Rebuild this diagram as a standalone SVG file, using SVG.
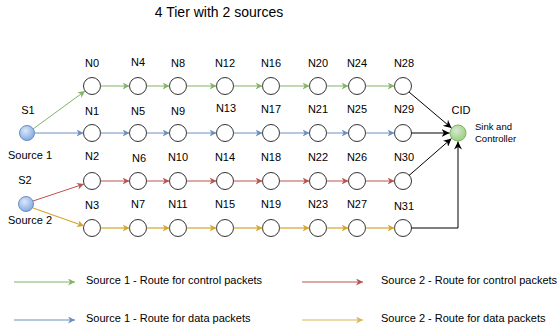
<svg xmlns="http://www.w3.org/2000/svg" width="558" height="329" viewBox="0 0 558 329">
<style>
text{font-family:"Liberation Sans",Arial,sans-serif;fill:#000}
.t{font-size:14px;text-anchor:middle}
.l{font-size:11px;text-anchor:middle}
.s{font-size:9.5px}
.lg{font-size:11px}
.n{fill:#fff;stroke:#333;stroke-width:1}
.e{fill:none;stroke-width:1}
.g{stroke:#82b366}.b{stroke:#6c8ebf}.r{stroke:#b85450}.y{stroke:#d6a62c}.yl{stroke:#d6b656}.k{stroke:#000}
</style>
<defs>
<radialGradient id="gb" cx="0.4" cy="0.35" r="0.7"><stop offset="0" stop-color="#dae8fc"/><stop offset="1" stop-color="#7ea6e0"/></radialGradient>
<radialGradient id="gg" cx="0.4" cy="0.35" r="0.7"><stop offset="0" stop-color="#d5e8d4"/><stop offset="1" stop-color="#97d077"/></radialGradient>
<marker id="ag" viewBox="0 0 10 10" refX="10" refY="5" markerWidth="7" markerHeight="7" markerUnits="userSpaceOnUse" orient="auto"><path d="M0,0 L10,5 L0,10 L3,5 Z" fill="#82b366"/></marker>
<marker id="ab" viewBox="0 0 10 10" refX="10" refY="5" markerWidth="7" markerHeight="7" markerUnits="userSpaceOnUse" orient="auto"><path d="M0,0 L10,5 L0,10 L3,5 Z" fill="#6c8ebf"/></marker>
<marker id="ar" viewBox="0 0 10 10" refX="10" refY="5" markerWidth="7" markerHeight="7" markerUnits="userSpaceOnUse" orient="auto"><path d="M0,0 L10,5 L0,10 L3,5 Z" fill="#b85450"/></marker>
<marker id="ay" viewBox="0 0 10 10" refX="10" refY="5" markerWidth="7" markerHeight="7" markerUnits="userSpaceOnUse" orient="auto"><path d="M0,0 L10,5 L0,10 L3,5 Z" fill="#d6a62c"/></marker>
<marker id="ayl" viewBox="0 0 10 10" refX="10" refY="5" markerWidth="7" markerHeight="7" markerUnits="userSpaceOnUse" orient="auto"><path d="M0,0 L10,5 L0,10 L3,5 Z" fill="#d6b656"/></marker>
<marker id="ak" viewBox="0 0 10 10" refX="10" refY="5" markerWidth="8" markerHeight="8" markerUnits="userSpaceOnUse" orient="auto"><path d="M0,0 L10,5 L0,10 L3,5 Z" fill="#000"/></marker>
</defs>

<text class="t" x="219" y="17">4 Tier with 2 sources</text>

<g id="S1"><circle cx="27" cy="133" r="7.5" fill="url(#gb)" stroke="#6c8ebf"/><text class="l" x="28" y="114">S1</text><text class="l" x="30" y="159">Source 1</text></g>
<g id="S2"><circle cx="26" cy="204" r="7.5" fill="url(#gb)" stroke="#6c8ebf"/><text class="l" x="25" y="184">S2</text><text class="l" x="30" y="224">Source 2</text></g>
<g id="CID"><circle cx="458" cy="133" r="8" fill="url(#gg)" stroke="#82b366"/><text class="l" x="461" y="114">CID</text><text class="s" x="475" y="130">Sink and</text><text class="s" x="475" y="142">Controller</text></g>

<g id="N0"><circle class="n" cx="92" cy="86" r="8.5"/><text class="l" x="92" y="67">N0</text></g>
<g id="N4"><circle class="n" cx="138" cy="86" r="8.5"/><text class="l" x="138" y="66">N4</text></g>
<g id="N8"><circle class="n" cx="178" cy="86" r="8.5"/><text class="l" x="178" y="67">N8</text></g>
<g id="N12"><circle class="n" cx="225" cy="86" r="8.5"/><text class="l" x="225" y="67">N12</text></g>
<g id="N16"><circle class="n" cx="271" cy="86" r="8.5"/><text class="l" x="271" y="67">N16</text></g>
<g id="N20"><circle class="n" cx="318" cy="86" r="8.5"/><text class="l" x="318" y="67">N20</text></g>
<g id="N24"><circle class="n" cx="357" cy="86" r="8.5"/><text class="l" x="357" y="67">N24</text></g>
<g id="N28"><circle class="n" cx="403" cy="86" r="8.5"/><text class="l" x="404" y="67">N28</text></g>

<g id="N1"><circle class="n" cx="92" cy="133" r="8.5"/><text class="l" x="92" y="115">N1</text></g>
<g id="N5"><circle class="n" cx="138" cy="133" r="8.5"/><text class="l" x="138" y="115">N5</text></g>
<g id="N9"><circle class="n" cx="178" cy="133" r="8.5"/><text class="l" x="178" y="115">N9</text></g>
<g id="N13"><circle class="n" cx="225" cy="133" r="8.5"/><text class="l" x="226" y="112">N13</text></g>
<g id="N17"><circle class="n" cx="271" cy="133" r="8.5"/><text class="l" x="271" y="113">N17</text></g>
<g id="N21"><circle class="n" cx="318" cy="133" r="8.5"/><text class="l" x="318" y="113">N21</text></g>
<g id="N25"><circle class="n" cx="357" cy="133" r="8.5"/><text class="l" x="357" y="113">N25</text></g>
<g id="N29"><circle class="n" cx="403" cy="133" r="8.5"/><text class="l" x="404" y="113">N29</text></g>

<g id="N2"><circle class="n" cx="92" cy="181" r="8.5"/><text class="l" x="92" y="160">N2</text></g>
<g id="N6"><circle class="n" cx="138" cy="181" r="8.5"/><text class="l" x="139" y="162">N6</text></g>
<g id="N10"><circle class="n" cx="178" cy="181" r="8.5"/><text class="l" x="178" y="161">N10</text></g>
<g id="N14"><circle class="n" cx="225" cy="181" r="8.5"/><text class="l" x="225" y="161">N14</text></g>
<g id="N18"><circle class="n" cx="271" cy="181" r="8.5"/><text class="l" x="271" y="161">N18</text></g>
<g id="N22"><circle class="n" cx="318" cy="181" r="8.5"/><text class="l" x="318" y="161">N22</text></g>
<g id="N26"><circle class="n" cx="357" cy="181" r="8.5"/><text class="l" x="357" y="161">N26</text></g>
<g id="N30"><circle class="n" cx="403" cy="181" r="8.5"/><text class="l" x="404" y="161">N30</text></g>

<g id="N3"><circle class="n" cx="92" cy="228" r="8.5"/><text class="l" x="92" y="209">N3</text></g>
<g id="N7"><circle class="n" cx="138" cy="228" r="8.5"/><text class="l" x="138" y="208">N7</text></g>
<g id="N11"><circle class="n" cx="178" cy="228" r="8.5"/><text class="l" x="178" y="208">N11</text></g>
<g id="N15"><circle class="n" cx="225" cy="228" r="8.5"/><text class="l" x="225" y="208">N15</text></g>
<g id="N19"><circle class="n" cx="271" cy="228" r="8.5"/><text class="l" x="271" y="208">N19</text></g>
<g id="N23"><circle class="n" cx="318" cy="228" r="8.5"/><text class="l" x="318" y="208">N23</text></g>
<g id="N27"><circle class="n" cx="357" cy="228" r="8.5"/><text class="l" x="357" y="208">N27</text></g>
<g id="N31"><circle class="n" cx="403" cy="228" r="8.5"/><text class="l" x="404" y="210">N31</text></g>

<g id="connectors">
<g class="e g" marker-end="url(#ag)">
<path d="M33,129 L85,91"/>
<path d="M100.5,86 H129.5"/><path d="M146.5,86 H169.5"/><path d="M186.5,86 H216.5"/><path d="M233.5,86 H262.5"/><path d="M279.5,86 H309.5"/><path d="M326.5,86 H348.5"/><path d="M365.5,86 H394.5"/>
</g>
<g class="e b" marker-end="url(#ab)">
<path d="M34.5,133 H83.5"/>
<path d="M100.5,133 H129.5"/><path d="M146.5,133 H169.5"/><path d="M186.5,133 H216.5"/><path d="M233.5,133 H262.5"/><path d="M279.5,133 H309.5"/><path d="M326.5,133 H348.5"/><path d="M365.5,133 H394.5"/>
</g>
<g class="e r" marker-end="url(#ar)">
<path d="M33,201 L84,184"/>
<path d="M100.5,181 H129.5"/><path d="M146.5,181 H169.5"/><path d="M186.5,181 H216.5"/><path d="M233.5,181 H262.5"/><path d="M279.5,181 H309.5"/><path d="M326.5,181 H348.5"/><path d="M365.5,181 H394.5"/>
</g>
<g class="e y" marker-end="url(#ay)" style="stroke-width:1.2">
<path d="M33,208 L84,226"/>
<path d="M100.5,228 H129.5"/><path d="M146.5,228 H169.5"/><path d="M186.5,228 H216.5"/><path d="M233.5,228 H262.5"/><path d="M279.5,228 H309.5"/><path d="M326.5,228 H348.5"/><path d="M365.5,228 H394.5"/>
</g>
<g class="e k" marker-end="url(#ak)">
<path d="M409,92 L451.5,128"/>
<path d="M411.5,133 H449.5"/>
<path d="M409,175.5 L451.5,138.5"/>
<path d="M411.5,228 H458 V141.5"/>
</g>
</g>

<g id="legend">
<path class="e g" d="M14,282 H75" marker-end="url(#ag)"/>
<text class="lg" x="86" y="283.5">Source 1 - Route for control packets</text>
<path class="e b" d="M14,320 H75" marker-end="url(#ab)"/>
<text class="lg" x="86" y="322">Source 1 - Route for data packets</text>
<path class="e r" d="M302,282 H363" marker-end="url(#ar)"/>
<text class="lg" x="381" y="283.5">Source 2 - Route for control packets</text>
<path class="e yl" d="M302,320 H363" marker-end="url(#ayl)"/>
<text class="lg" x="381" y="322">Source 2 - Route for data packets</text>
</g>
</svg>
